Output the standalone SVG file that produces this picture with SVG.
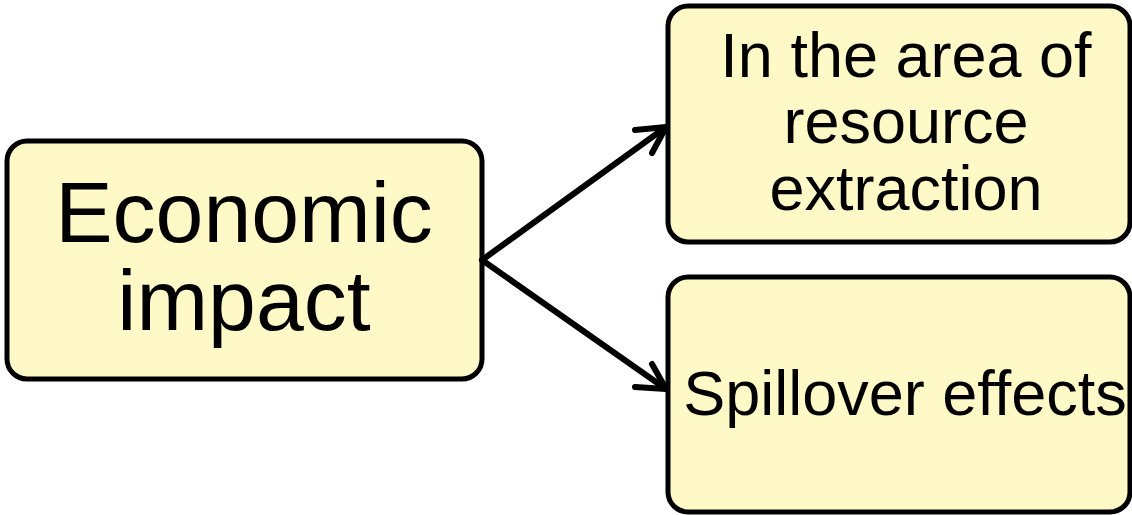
<svg xmlns="http://www.w3.org/2000/svg" width="1132" height="515" viewBox="0 0 1132 515">
<style>
.box{fill:#FFF9C8;stroke:#000;stroke-width:5}
.t{font-family:"Liberation Sans",Arial,sans-serif;fill:#000;text-anchor:middle}
.c{stroke:#000;stroke-width:6;fill:none;stroke-linecap:round;stroke-linejoin:round}
</style>
<rect width="1132" height="515" fill="#fff"/>
<g id="node-economic">
<rect class="box" x="7" y="141" width="475" height="238" rx="20"/>
<text class="t" x="244" y="242" font-size="86">Economic</text>
<text class="t" x="244" y="330" font-size="86">impact</text>
</g>
<g id="node-resource">
<rect class="box" x="668" y="6" width="462" height="236" rx="20"/>
<text class="t" x="906" y="77" font-size="63">In the area of</text>
<text class="t" x="906" y="143" font-size="63">resource</text>
<text class="t" x="906" y="210" font-size="63">extraction</text>
</g>
<g id="node-spillover">
<rect class="box" x="668" y="277" width="462" height="235" rx="20"/>
<text class="t" x="905" y="415" font-size="63">Spillover effects</text>
</g>
<g id="connectors">
<path class="c" d="M482 260 L666 127"/>
<path class="c" d="M635 130 L666 127 L652 153"/>
<path class="c" d="M482 260 L666 389"/>
<path class="c" d="M652 364 L666 389 L635 387"/>
</g>
</svg>
